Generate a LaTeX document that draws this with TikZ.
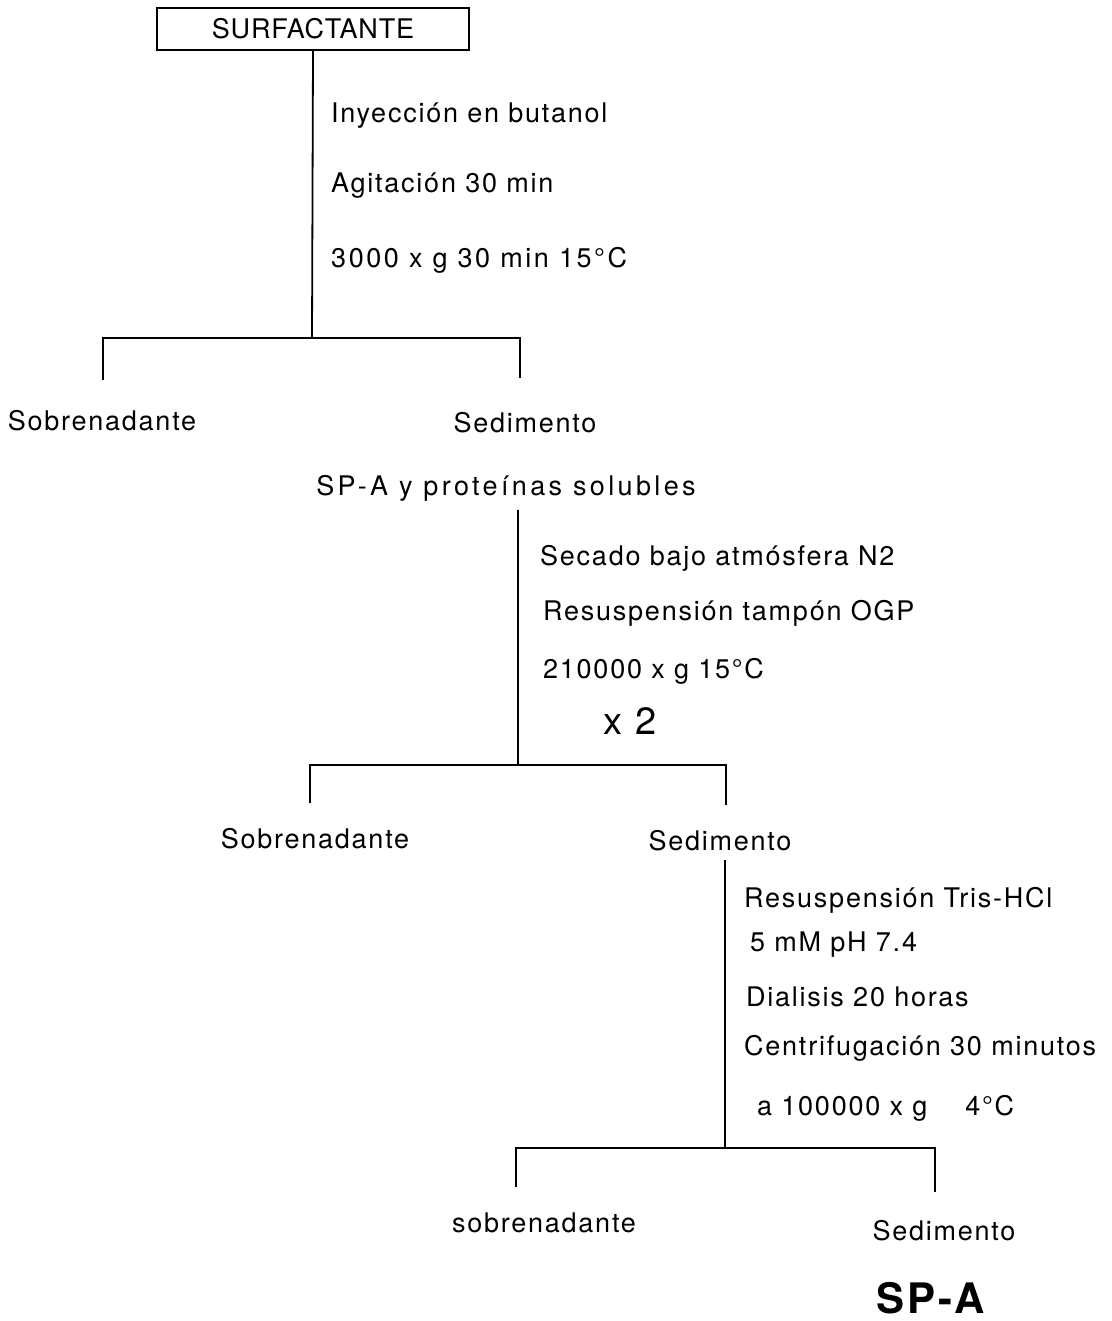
\documentclass[tikz,border=0pt]{standalone}
\usepackage{fontspec}
\setmainfont{TeX Gyre Heros}[LetterSpace=6.5]
\newfontfamily\boxfont{TeX Gyre Heros}[LetterSpace=3]
\newfontfamily\wideheros{TeX Gyre Heros}[LetterSpace=9.5]
\newfontfamily\widerheros{TeX Gyre Heros}[LetterSpace=12.5]
\begin{document}
\begin{tikzpicture}[x=1pt,y=-1pt,
  lbl/.style={inner sep=0pt,font=\fontsize{27}{32}\selectfont},
  step label/.style={lbl,anchor=base west},
  result/.style={lbl,anchor=base},
  link/.style={line width=1.8pt}]
\useasboundingbox (0,0) rectangle (1111,1321);

% starting material
\node[draw,line width=1.8pt,minimum width=312pt,minimum height=42pt,inner sep=0pt,
      font=\boxfont\fontsize{27}{32}\selectfont] (surf) at (313,29) {SURFACTANTE};

% first extraction
\node[step label] (t1) at (331,123) {Inyección en butanol};
\node[step label] (t2) at (331,193) {Agitación 30 min};
\node[step label,font=\wideheros\fontsize{27}{32}\selectfont] (t3) at (331,268) {3000 x g 30 min 15°C};
\coordinate (j1) at (312,338);
\coordinate (d1l) at (103,380);
\coordinate (d1r) at (520,378);
\draw[link] (surf.south) -- (j1);
\draw[link] (d1l) -- (d1l |- j1) -- (d1r |- j1) -- (d1r);
\node[result] (sob1) at (102,430) {Sobrenadante};
\node[result] (sed1) at (525,432) {Sedimento};
\node[result,font=\widerheros\fontsize{27}{32}\selectfont] (spsol) at (506,495) {SP-A y proteínas solubles};

% second extraction
\coordinate (k2) at (518,510);
\node[step label] (u1) at (540,565) {Secado bajo atmósfera N2};
\node[step label] (u2) at (543,620) {Resuspensión tampón OGP};
\node[step label] (u3) at (543,678) {210000 x g 15°C};
\node[lbl,anchor=base west,font=\fontsize{38}{44}\selectfont] (u4) at (603,734) {x 2};
\coordinate (j2) at (518,765);
\coordinate (d2l) at (310,803);
\coordinate (d2r) at (726,805);
\draw[link] (k2) -- (j2);
\draw[link] (d2l) -- (d2l |- j2) -- (d2r |- j2) -- (d2r);
\node[result] (sob2) at (315,848) {Sobrenadante};
\node[result] (sed2) at (720,850) {Sedimento};

% final purification
\coordinate (k3) at (725,860);
\node[step label] (v1) at (744,907) {Resuspensión Tris-HCl};
\node[step label] (v2) at (750,951) {5 mM pH 7.4};
\node[step label] (v3) at (746,1006) {Dialisis 20 horas};
\node[step label] (v4) at (744,1055) {Centrifugación 30 minutos};
\node[step label] (v5) at (757,1115) {a 100000 x g\hspace{38pt}4°C};
\coordinate (j3) at (725,1148);
\coordinate (d3l) at (516,1187);
\coordinate (d3r) at (935,1192);
\draw[link] (k3) -- (j3);
\draw[link] (d3l) -- (d3l |- j3) -- (d3r |- j3) -- (d3r);
\node[result] (sob3) at (544,1232) {sobrenadante};
\node[result] (sed3) at (944,1240) {Sedimento};
\node[lbl,anchor=base,font=\fontsize{42}{48}\selectfont\bfseries] (spa) at (931,1313) {SP-A};
\end{tikzpicture}
\end{document}
